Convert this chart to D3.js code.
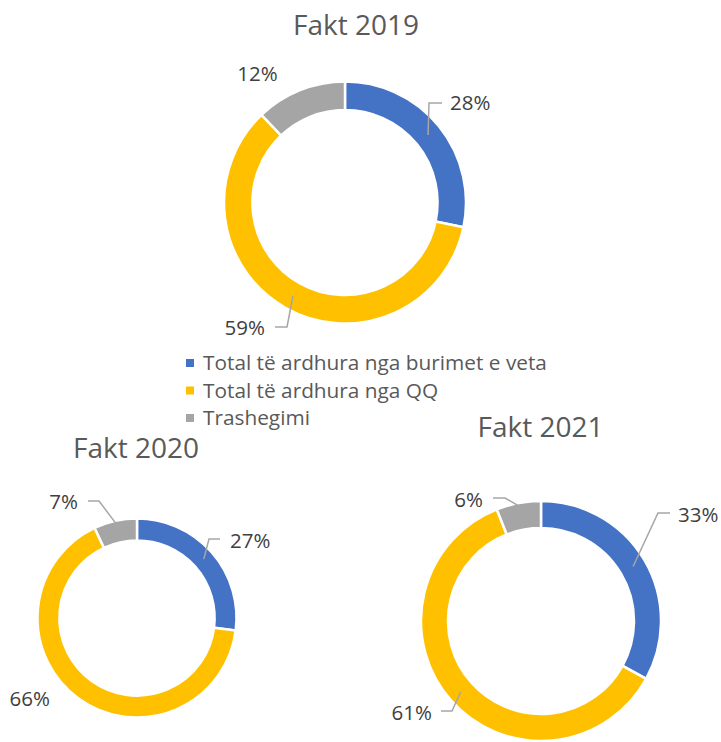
<!DOCTYPE html>
<html>
<head>
<meta charset="utf-8">
<script src="https://cdn.jsdelivr.net/npm/d3@7"></script>
<style>
  html, body { margin: 0; padding: 0; background: #ffffff; }
  svg { display: block; }
</style>
</head>
<body>
<svg id="chart" width="721" height="742"></svg>
<script>
// ---- data ----
const categories = ["Total të ardhura nga burimet e veta", "Total të ardhura nga QQ", "Trashegimi"];
const titles = ["Fakt 2019", "Fakt 2020", "Fakt 2021"];
const values2019 = [28, 59, 12];
const values2020 = [27, 66, 7];
const values2021 = [33, 61, 6];
const seriesValues = [values2019, values2020, values2021];
const colors = ["#4472C4", "#FFC000", "#A5A5A5"];

// ---- layout (positions only) ----
const FONT = "'Open Sans', 'Noto Sans', sans-serif";
const charts = [
  { cx: 345, cy: 202.5, R: 121, hole: 0.765, title: [356, 35],
    labels: [
      { t: [105, -92.5], a: "start",  lr: 107, elbow: [84, -99.5],  end: [97, -99.5] },
      { t: [-80, 132.5], a: "end",    lr: 107, elbow: [-58, 124.5], end: [-70, 124.5] },
      { t: [-87.5, -121.5], a: "middle", lr: null }
    ] },
  { cx: 137, cy: 618, R: 99.5, hole: 0.78, title: [136, 458],
    labels: [
      { t: [93, -70],  a: "start", lr: 89, elbow: [72, -79],   end: [83, -79] },
      { t: [-87, 88],  a: "end",   lr: null },
      { t: [-59, -109], a: "end",  lr: 97, elbow: [-38, -117], end: [-49, -117] }
    ] },
  { cx: 541, cy: 621, R: 120, hole: 0.775, title: [540.5, 437],
    labels: [
      { t: [137, -99], a: "start", lr: 107, elbow: [117, -108], end: [129, -108] },
      { t: [-109, 99], a: "end",   lr: 107, elbow: [-89, 90],   end: [-100, 90] },
      { t: [-58, -114], a: "end",  lr: 117, elbow: [-36, -123], end: [-48, -123] }
    ] }
];

const svg = d3.select("#chart");
const pie = d3.pie().sort(null).value(d => d);

charts.forEach((c, i) => {
  const g = svg.append("g").attr("transform", `translate(${c.cx},${c.cy})`);
  const arc = d3.arc().innerRadius(c.R * c.hole).outerRadius(c.R);
  const arcs = pie(seriesValues[i]);

  g.selectAll("path.slice")
    .data(arcs)
    .join("path")
    .attr("class", "slice")
    .attr("d", arc)
    .attr("fill", (d, j) => colors[j])
    .attr("stroke", "#ffffff")
    .attr("stroke-width", 2.5)
    .attr("stroke-linejoin", "miter");

  // leader lines + labels
  arcs.forEach((d, j) => {
    const L = c.labels[j];
    if (L.lr != null) {
      const mid = (d.startAngle + d.endAngle) / 2;
      const sx = L.lr * Math.sin(mid), sy = -L.lr * Math.cos(mid);
      g.append("polyline")
        .attr("points", `${sx},${sy} ${L.elbow[0]},${L.elbow[1]} ${L.end[0]},${L.end[1]}`)
        .attr("fill", "none")
        .attr("stroke", "#A6A6A6")
        .attr("stroke-width", 1.5);
    }
    g.append("text")
      .attr("x", L.t[0]).attr("y", L.t[1])
      .attr("text-anchor", L.a)
      .attr("font-family", FONT)
      .attr("font-size", 20.5)
      .attr("fill", "#404040")
      .text(d.data + "%");
  });

  svg.append("text")
    .attr("x", c.title[0]).attr("y", c.title[1])
    .attr("text-anchor", "middle")
    .attr("font-family", FONT)
    .attr("font-size", 28)
    .attr("fill", "#595959")
    .text(titles[i]);
});

// legend
const legend = svg.append("g").attr("transform", "translate(186,370)");
categories.forEach((name, j) => {
  const row = legend.append("g").attr("transform", `translate(0,${j * 27.5})`);
  row.append("rect").attr("x", 0).attr("y", -11).attr("width", 8).attr("height", 8).attr("fill", colors[j]);
  row.append("text").attr("x", 17).attr("y", 0)
    .attr("font-family", FONT).attr("font-size", 20.8).attr("fill", "#595959")
    .text(name);
});
</script>
</body>
</html>
